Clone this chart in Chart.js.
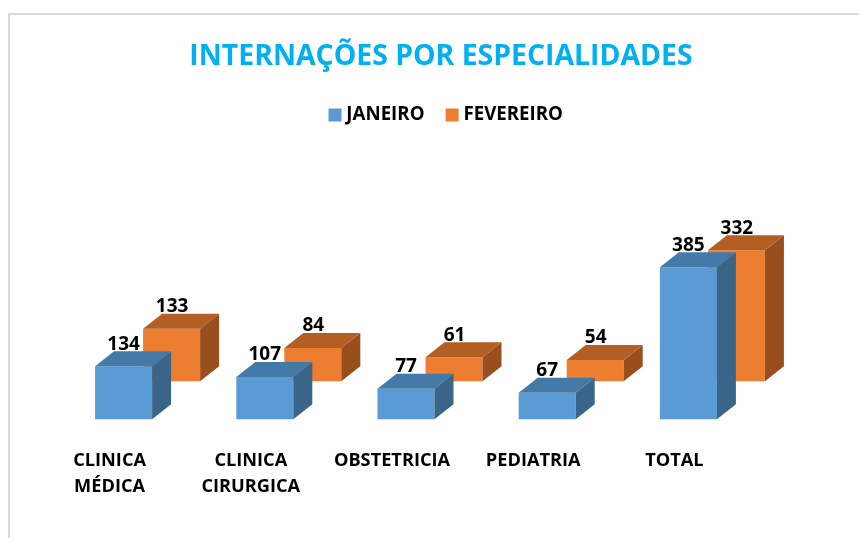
<!DOCTYPE html>
<html><head><meta charset="utf-8">
<style>
html,body{margin:0;padding:0;background:#fff;width:859px;height:538px;overflow:hidden}
#frame{position:absolute;left:8px;top:13px;width:851px;height:525px;border-left:2px solid #d9d9d9;border-top:2px solid #d9d9d9;box-sizing:border-box}
#wrap{position:absolute;left:0;top:0;width:859px;height:538px}
</style>
<script src="https://cdn.jsdelivr.net/npm/chart.js@4"></script>
</head><body>
<div id="frame"></div>
<div id="wrap"><canvas id="c" width="859" height="538"></canvas></div>
<script>
const categories = [["CLINICA","MÉDICA"],["CLINICA","CIRURGICA"],"OBSTETRICIA","PEDIATRIA","TOTAL"];
const janeiro = [134,107,77,67,385];
const fevereiro = [133,84,61,54,332];
const seriesNames = ["JANEIRO","FEVEREIRO"];
const titleText = "INTERNAÇÕES POR ESPECIALIDADES";
const FONT = '"Open Sans"';
const shades = [{top:"#447AA8",side:"#3A6589"},{top:"#B35E22",side:"#984F1D"}];
const DX=19, DY=15;

const bars3d = {
  id:"bars3d",
  afterLayout(chart){
    chart.titleBlock.left+=11; chart.titleBlock.right+=11;
    chart.legend.left+=18; chart.legend.right+=18;
  },
  afterDatasetDraw(chart,args){
    const ctx=chart.ctx, s=shades[args.index];
    args.meta.data.forEach((b,i)=>{
      const l=b.x-b.width/2, r=b.x+b.width/2, t=b.y, bot=b.base;
      ctx.save();
      ctx.fillStyle=s.side;
      ctx.beginPath();ctx.moveTo(r,t);ctx.lineTo(r+DX,t-DY);ctx.lineTo(r+DX,bot-DY);ctx.lineTo(r,bot);ctx.closePath();ctx.fill();
      ctx.fillStyle=s.top;
      ctx.beginPath();ctx.moveTo(l,t);ctx.lineTo(l+DX,t-DY);ctx.lineTo(r+DX,t-DY);ctx.lineTo(r,t);ctx.closePath();ctx.fill();
      ctx.restore();
    });
  },
  afterDraw(chart){
    const ctx=chart.ctx;
    ctx.save();
    ctx.fillStyle="#000";
    ctx.font='bold 19px '+FONT;
    ctx.textAlign="center";ctx.textBaseline="middle";
    chart.data.datasets.forEach((d,k)=>{
      chart.getDatasetMeta(k).data.forEach((b,i)=>{
        ctx.fillText(String(d.data[i]), b.x+(k===0?0:0.5), b.y-22);
      });
    });
    ctx.restore();
  }
};

new Chart(document.getElementById("c"),{
  type:"bar",
  data:{labels:categories,datasets:[
    {label:seriesNames[0],data:janeiro,backgroundColor:"#5B9BD5",yAxisID:"y",order:1,clip:false},
    {label:seriesNames[1],data:fevereiro,backgroundColor:"#ED7D31",yAxisID:"y2",order:2,clip:false}
  ]},
  plugins:[bars3d],
  options:{
    responsive:false,animation:false,
    layout:{padding:{left:77,right:76,top:40,bottom:18}},
    datasets:{bar:{categoryPercentage:0.68,barPercentage:1.1875}},
    plugins:{
      title:{display:true,text:titleText,color:"#00B0F0",font:{family:FONT,size:28.4,weight:"bold"},padding:{top:0,bottom:6}},
      legend:{display:true,position:"top",labels:{color:"#000",font:{family:FONT,size:18.7,weight:"bold"},usePointStyle:true,pointStyle:"rect",boxWidth:4,boxHeight:13,padding:25.6,sortFn:(a,b)=>a.datasetIndex-b.datasetIndex}},
      tooltip:{enabled:false}
    },
    scales:{
      x:{grid:{display:false},border:{display:false},ticks:{maxRotation:0,autoSkip:false,color:"#000",labelOffset:-38,padding:20,font:{family:FONT,size:18.2,weight:"bold",lineHeight:1.45}}},
      y:{display:false,min:0,max:721.5},
      y2:{display:false,min:-96.2,max:625.3}
    }
  }
});
</script>
</body></html>
